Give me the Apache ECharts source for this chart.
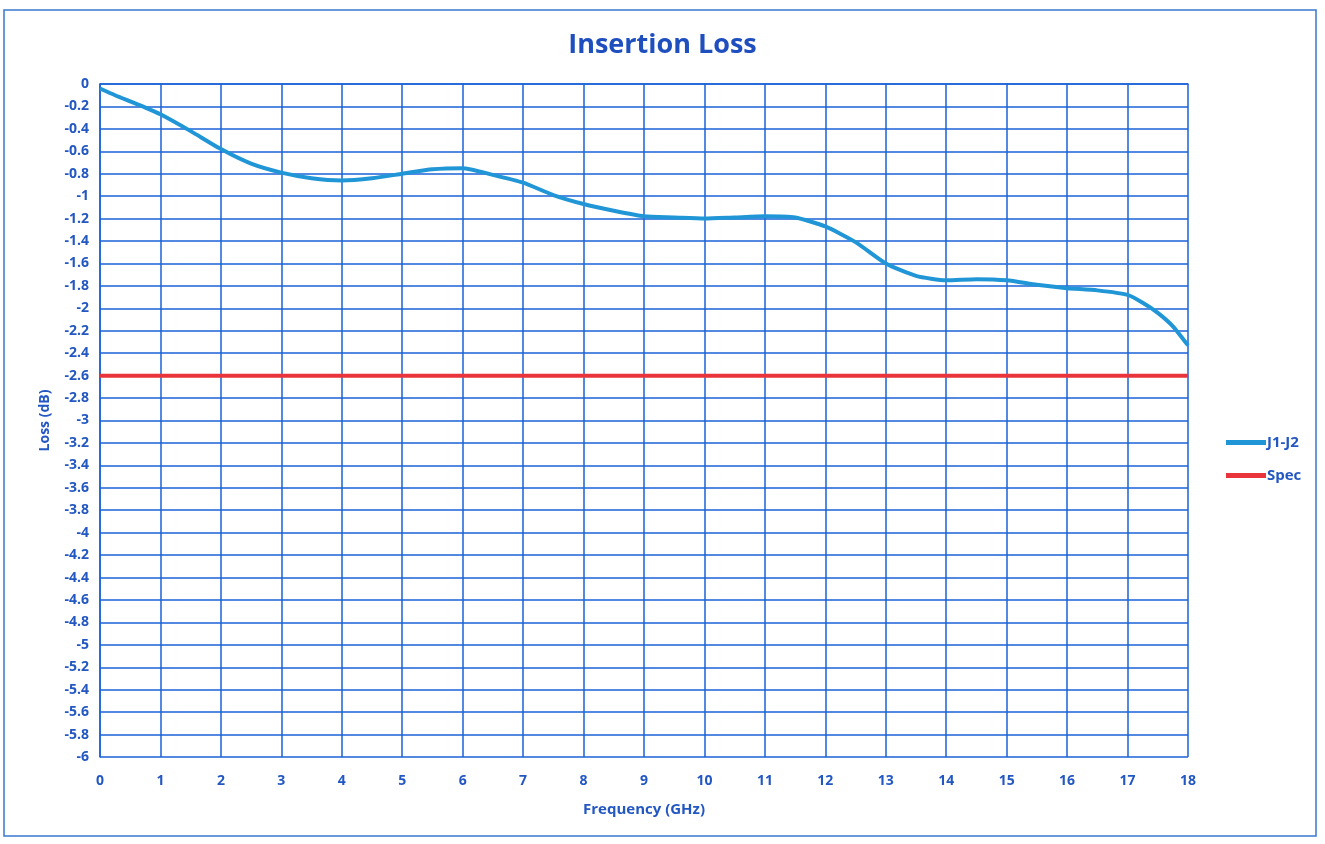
<!DOCTYPE html>
<html>
<head>
<meta charset="utf-8">
<script src="https://cdn.jsdelivr.net/npm/echarts@6/dist/echarts.min.js"></script>
<style>
html,body{margin:0;padding:0;background:#fff;}
#c{width:1325px;height:844px;}
</style>
</head>
<body>
<div id="c"></div>
<script>
var freqGHz = [0, 0.25, 0.5, 0.75, 1, 1.5, 2, 2.5, 3, 3.5, 4, 4.5, 5, 5.5, 6, 6.5, 7, 7.5, 8, 8.5, 9, 9.5, 10, 10.5, 11, 11.5, 12, 12.5, 13, 13.5, 14, 14.5, 15, 15.5, 16, 16.5, 17, 17.25, 17.5, 17.75, 18];
var lossJ1J2 = [-0.04, -0.10, -0.155, -0.21, -0.27, -0.42, -0.58, -0.71, -0.79, -0.84, -0.86, -0.84, -0.80, -0.76, -0.75, -0.81, -0.88, -0.99, -1.07, -1.13, -1.18, -1.19, -1.20, -1.19, -1.18, -1.19, -1.27, -1.41, -1.60, -1.71, -1.75, -1.74, -1.75, -1.79, -1.82, -1.84, -1.88, -1.95, -2.04, -2.16, -2.33];
var specFreq = [0, 18];
var specLoss = [-2.6, -2.6];
var seriesNames = ['J1-J2', 'Spec'];

var textBlue = '#2357c2';
var gridBlue = '#1b62d8';
var font = 'Open Sans';

var chart = echarts.init(document.getElementById('c'));
chart.setOption({
  backgroundColor: '#fff',
  animation: false,
  title: {
    text: 'Insertion Loss',
    left: 'center',
    top: 27,
    textStyle: {color: '#1f4fbf', fontSize: 27, fontWeight: 'bold', fontFamily: font}
  },
  legend: {
    orient: 'vertical',
    left: 1221,
    top: 430,
    itemGap: 18,
    itemWidth: 40,
    itemHeight: 5,
    icon: 'rect',
    data: seriesNames,
    textStyle: {color: textBlue, fontSize: 15, fontWeight: 'bold', fontFamily: font, padding: [0, 0, 0, -4]}
  },
  grid: {left: 100, right: 137, top: 84, bottom: 87, containLabel: false},
  xAxis: {
    type: 'value',
    min: 0, max: 18, interval: 1,
    name: 'Frequency (GHz)',
    nameLocation: 'middle',
    nameGap: 45,
    nameTextStyle: {color: textBlue, fontSize: 15, fontWeight: 'bold', fontFamily: font},
    axisLine: {show: true, lineStyle: {color: gridBlue, width: 1.5}},
    axisTick: {show: false},
    axisLabel: {color: textBlue, fontSize: 14, fontWeight: 'bold', fontFamily: font, margin: 17},
    splitLine: {show: true, lineStyle: {color: gridBlue, width: 1.5}}
  },
  yAxis: {
    type: 'value',
    min: -6, max: 0, interval: 0.2,
    name: 'Loss (dB)',
    nameLocation: 'middle',
    nameRotate: 90,
    nameGap: 48,
    nameTextStyle: {color: textBlue, fontSize: 14, fontWeight: 'bold', fontFamily: font},
    axisLine: {show: true, lineStyle: {color: gridBlue, width: 1.5}},
    axisTick: {show: false},
    axisLabel: {color: textBlue, fontSize: 14, fontWeight: 'bold', fontFamily: font, margin: 11,
      formatter: function (v) { return String(Math.round(v * 10) / 10); }},
    splitLine: {show: true, lineStyle: {color: gridBlue, width: 1.5}}
  },
  graphic: [{
    type: 'rect',
    shape: {x: 4, y: 10, width: 1312, height: 826},
    style: {fill: 'none', stroke: '#3a78d0', lineWidth: 1.5},
    silent: true
  }],
  series: [
    {
      name: seriesNames[0],
      type: 'line',
      showSymbol: false,
      symbol: 'none',
      smooth: 0.2,
      color: '#2196d6',
      lineStyle: {color: '#2196d6', width: 4},
      data: freqGHz.map(function (f, i) { return [f, lossJ1J2[i]]; }),
      z: 3
    },
    {
      name: seriesNames[1],
      type: 'line',
      showSymbol: false,
      symbol: 'none',
      color: '#e8343a',
      lineStyle: {color: '#e8343a', width: 4},
      data: specFreq.map(function (f, i) { return [f, specLoss[i]]; }),
      z: 2
    }
  ]
});
</script>
</body>
</html>
